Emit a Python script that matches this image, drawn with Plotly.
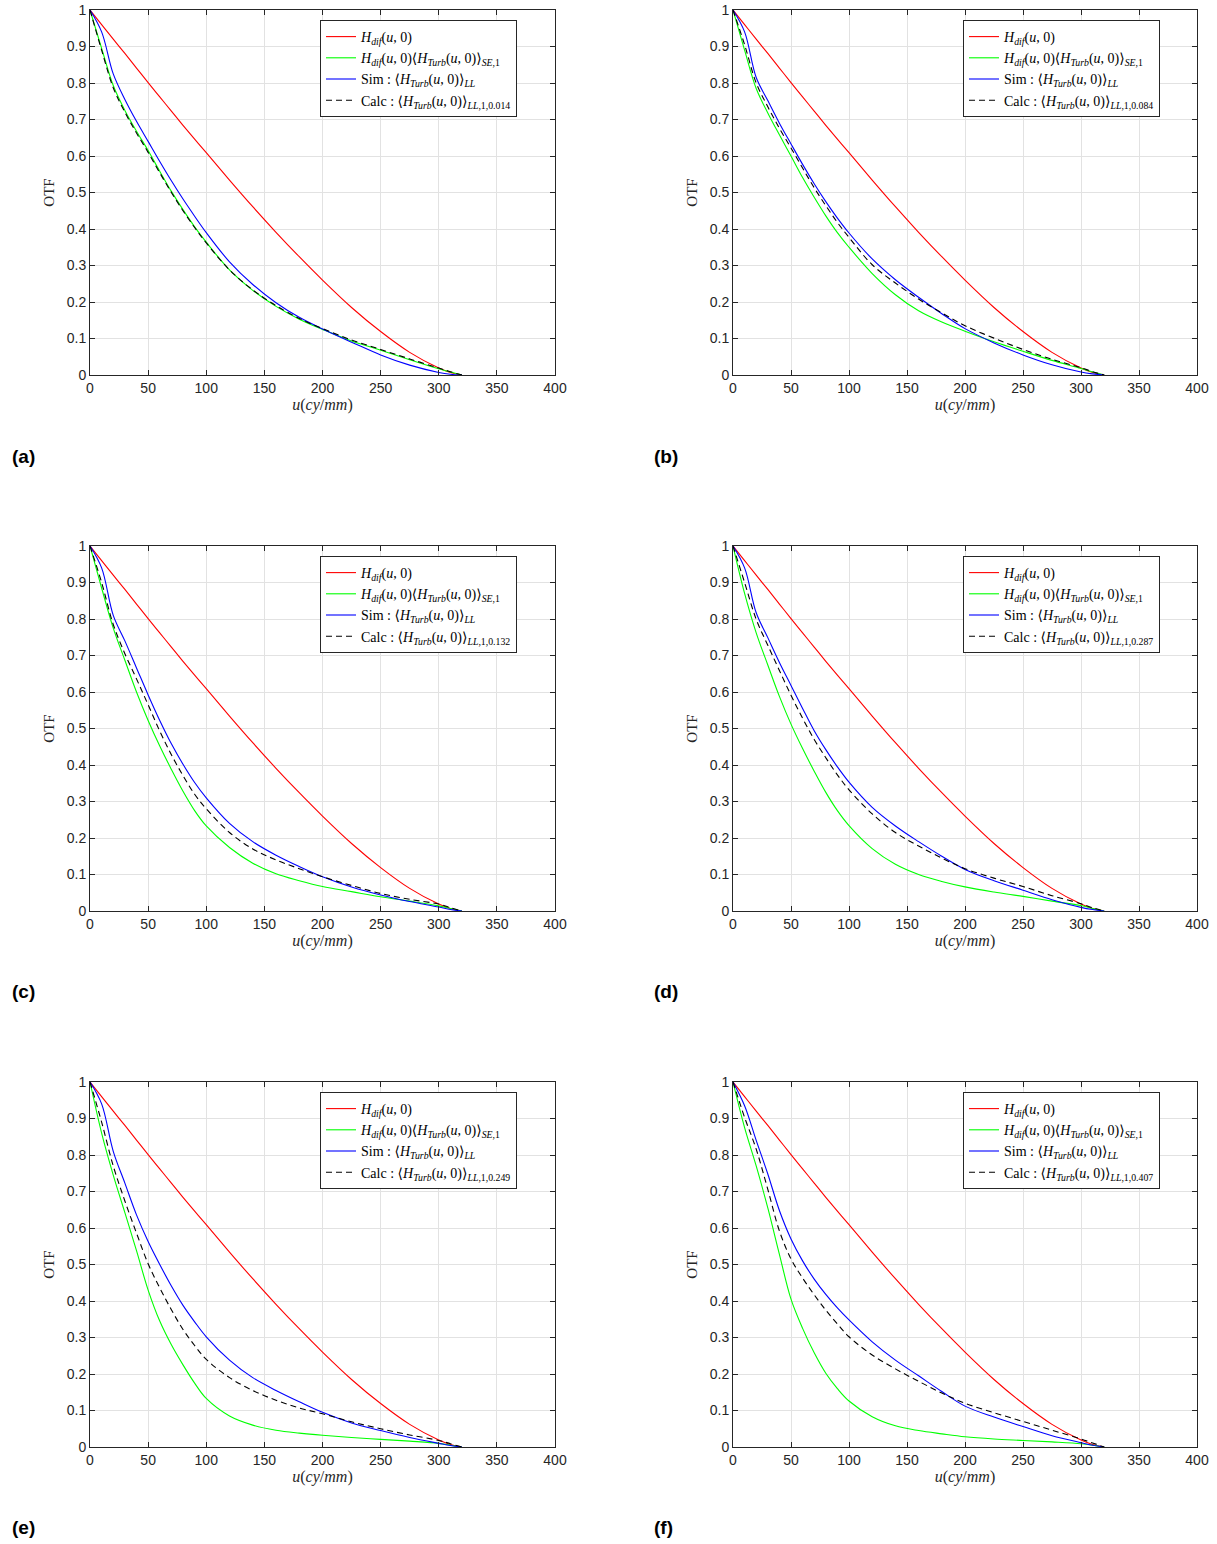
import plotly.graph_objects as go

# spatial frequency samples (cy/mm)
u = [0, 10, 20, 30, 40, 50, 60, 70, 80, 90, 100, 120, 140, 160, 180, 200, 225, 250, 275, 300, 310, 320]

# diffraction-limited OTF (same in every panel)
h_dif = [1, 0.960, 0.920, 0.881, 0.841, 0.801, 0.762, 0.723, 0.684, 0.646, 0.609, 0.534, 0.461, 0.391,
         0.324, 0.260, 0.185, 0.119, 0.062, 0.019, 0.007, 0]

# panel (a)
green_a = [1, 0.895, 0.793, 0.725, 0.668, 0.615, 0.558, 0.503, 0.453, 0.406, 0.364, 0.288, 0.232, 0.188, 0.153, 0.125, 0.093, 0.068, 0.042, 0.017, 0.008, 0]
blue_a = [1, 0.94, 0.825, 0.755, 0.695, 0.64, 0.585, 0.532, 0.482, 0.435, 0.39, 0.31, 0.248, 0.198, 0.158, 0.126, 0.09, 0.055, 0.027, 0.007, 0.002, 0]
calc_a = [1, 0.89, 0.787, 0.72, 0.663, 0.61, 0.554, 0.5, 0.45, 0.404, 0.362, 0.288, 0.233, 0.19, 0.155, 0.127, 0.096, 0.07, 0.044, 0.019, 0.009, 0]
# panel (b)
green_b = [1, 0.89, 0.785, 0.718, 0.658, 0.6, 0.541, 0.487, 0.436, 0.39, 0.35, 0.278, 0.22, 0.176, 0.145, 0.12, 0.091, 0.065, 0.04, 0.018, 0.008, 0]
blue_b = [1, 0.94, 0.815, 0.752, 0.69, 0.633, 0.577, 0.524, 0.475, 0.43, 0.389, 0.318, 0.261, 0.213, 0.168, 0.127, 0.088, 0.055, 0.028, 0.008, 0.003, 0]
calc_b = [1, 0.905, 0.8, 0.735, 0.676, 0.622, 0.567, 0.513, 0.464, 0.418, 0.377, 0.302, 0.252, 0.208, 0.17, 0.135, 0.101, 0.07, 0.043, 0.02, 0.009, 0]
# panel (c)
green_c = [1, 0.885, 0.775, 0.687, 0.6, 0.522, 0.452, 0.388, 0.328, 0.275, 0.233, 0.174, 0.131, 0.102, 0.083, 0.067, 0.053, 0.039, 0.027, 0.014, 0.007, 0]
blue_c = [1, 0.94, 0.81, 0.74, 0.666, 0.592, 0.522, 0.458, 0.402, 0.352, 0.31, 0.24, 0.19, 0.153, 0.122, 0.094, 0.066, 0.044, 0.026, 0.011, 0.004, 0]
calc_c = [1, 0.9, 0.785, 0.705, 0.636, 0.565, 0.493, 0.428, 0.371, 0.32, 0.28, 0.215, 0.17, 0.14, 0.116, 0.094, 0.07, 0.048, 0.032, 0.019, 0.009, 0]
# panel (d)
green_d = [1, 0.87, 0.762, 0.674, 0.588, 0.512, 0.445, 0.383, 0.325, 0.275, 0.234, 0.171, 0.128, 0.1, 0.081, 0.066, 0.052, 0.04, 0.027, 0.015, 0.007, 0]
blue_d = [1, 0.94, 0.817, 0.749, 0.681, 0.618, 0.555, 0.494, 0.442, 0.395, 0.353, 0.284, 0.233, 0.19, 0.15, 0.114, 0.083, 0.057, 0.031, 0.01, 0.004, 0]
calc_d = [1, 0.9, 0.799, 0.728, 0.659, 0.591, 0.528, 0.47, 0.42, 0.373, 0.332, 0.266, 0.215, 0.178, 0.145, 0.116, 0.09, 0.067, 0.042, 0.02, 0.009, 0]
# panel (e)
green_e = [1, 0.86, 0.745, 0.642, 0.538, 0.43, 0.345, 0.28, 0.225, 0.175, 0.133, 0.085, 0.06, 0.046, 0.038, 0.032, 0.026, 0.021, 0.016, 0.01, 0.005, 0]
blue_e = [1, 0.94, 0.81, 0.723, 0.636, 0.563, 0.5, 0.441, 0.388, 0.343, 0.302, 0.238, 0.19, 0.155, 0.124, 0.095, 0.066, 0.045, 0.026, 0.01, 0.004, 0]
calc_e = [1, 0.89, 0.77, 0.674, 0.586, 0.502, 0.436, 0.376, 0.322, 0.278, 0.24, 0.19, 0.155, 0.128, 0.107, 0.091, 0.069, 0.05, 0.033, 0.018, 0.009, 0]
# panel (f)
green_f = [1, 0.875, 0.77, 0.655, 0.528, 0.405, 0.325, 0.258, 0.202, 0.16, 0.126, 0.083, 0.058, 0.045, 0.036, 0.028, 0.022, 0.018, 0.014, 0.009, 0.005, 0]
blue_f = [1, 0.935, 0.84, 0.748, 0.648, 0.57, 0.51, 0.46, 0.418, 0.381, 0.348, 0.288, 0.238, 0.195, 0.152, 0.112, 0.082, 0.056, 0.031, 0.012, 0.005, 0]
calc_f = [1, 0.903, 0.816, 0.706, 0.592, 0.515, 0.463, 0.417, 0.375, 0.337, 0.302, 0.252, 0.214, 0.18, 0.148, 0.12, 0.094, 0.07, 0.046, 0.022, 0.011, 0]

panel_labels = ["(a)", "(b)", "(c)", "(d)", "(e)", "(f)"]
calc_params = ["0.014", "0.084", "0.132", "0.287", "0.249", "0.407"]
x_ticks = [0, 50, 100, 150, 200, 250, 300, 350, 400]
y_ticks = [0, 0.1, 0.2, 0.3, 0.4, 0.5, 0.6, 0.7, 0.8, 0.9, 1]

greens = [green_a, green_b, green_c, green_d, green_e, green_f]
blues = [blue_a, blue_b, blue_c, blue_d, blue_e, blue_f]
calcs = [calc_a, calc_b, calc_c, calc_d, calc_e, calc_f]

SERIF = "Liberation Serif, DejaVu Serif, serif"
SANS = "Liberation Sans, Arial, Helvetica, sans-serif"
AX = "#262626"

W, H = 1217, 1544
xdom_px = [(90, 555), (733, 1197)]
ydom_px = [(10, 375), (546, 911), (1082, 1447)]
leg_x_px = [320, 963]
leg_y_px = [20, 556, 1092]
lab_x_px = [10, 652]
lab_y_px = [457, 992, 1527]


def px_x(p):
    return p / W


def px_y(p):
    return 1 - p / H


H_DIF = "<i>H</i><sub><i>dif</i></sub>(<i>u</i>, 0)"
H_TURB = "⟨<i>H</i><sub><i>Turb</i></sub>(<i>u</i>, 0)⟩"

fig = go.Figure()
layout = dict(width=W, height=H, margin=dict(l=0, r=0, t=0, b=0, autoexpand=False),
              paper_bgcolor="white", plot_bgcolor="white", annotations=[])

for i in range(6):
    r, c = divmod(i, 2)
    sfx = "" if i == 0 else str(i + 1)
    leg = "legend" if i == 0 else f"legend{i + 1}"
    series = [
        (H_DIF, h_dif, "#ff0000", "solid"),
        (H_DIF + H_TURB + "<sub><i>SE</i>,1</sub>", greens[i], "#00ff00", "solid"),
        ("Sim : " + H_TURB + "<sub><i>LL</i></sub>", blues[i], "#0000ff", "solid"),
        ("Calc : " + H_TURB + "<sub><i>LL</i>,1," + calc_params[i] + "</sub>", calcs[i], "#000000", "6px,4px"),
    ]
    for name, yv, color, dash in series:
        fig.add_trace(go.Scatter(
            x=u, y=yv, mode="lines", name=name,
            line=dict(color=color, width=1.1, dash=dash, shape="spline", smoothing=1.0),
            xaxis="x" + sfx, yaxis="y" + sfx, legend=leg, hoverinfo="skip"))

    x0, x1 = xdom_px[c]
    yt, yb = ydom_px[r]
    common = dict(showline=True, linecolor=AX, linewidth=1, mirror="ticks",
                  ticks="inside", ticklen=5, tickcolor=AX, tickwidth=1,
                  showgrid=True, gridcolor="#e2e2e2", gridwidth=1, zeroline=False,
                  automargin=False,
                  tickfont=dict(family=SANS, size=14, color=AX))
    layout["xaxis" + sfx] = dict(
        domain=[px_x(x0), px_x(x1)], range=[0, 400], anchor="y" + sfx,
        tickvals=x_ticks, ticktext=[str(v) for v in x_ticks],
        title=dict(text="<i>u</i>(<i>cy</i>/<i>mm</i>)", font=dict(family=SERIF, size=16, color=AX), standoff=2),
        **common)
    layout["yaxis" + sfx] = dict(
        domain=[px_y(yb), px_y(yt)], range=[0, 1], anchor="x" + sfx,
        tickvals=y_ticks, ticktext=[("%g" % v) for v in y_ticks],
        title=dict(text="OTF", font=dict(family=SERIF, size=15, color=AX), standoff=8),
        **common)
    layout[leg] = dict(
        x=px_x(leg_x_px[c]), y=px_y(leg_y_px[r]), xanchor="left", yanchor="top",
        bgcolor="white", bordercolor=AX, borderwidth=1,
        font=dict(family=SERIF, size=14, color="#000000"),
        tracegroupgap=0, itemwidth=30, traceorder="normal")
    layout["annotations"].append(dict(
        text="<b>" + panel_labels[i] + "</b>", xref="paper", yref="paper",
        x=px_x(lab_x_px[c]), y=px_y(lab_y_px[r]), xanchor="left", yanchor="middle",
        showarrow=False, font=dict(family=SANS, size=19, color="#000000")))

fig.update_layout(**layout)
fig.write_html("out.html", config={"displayModeBar": False},
               post_script="document.body.style.margin='0';document.body.style.overflow='hidden';")
